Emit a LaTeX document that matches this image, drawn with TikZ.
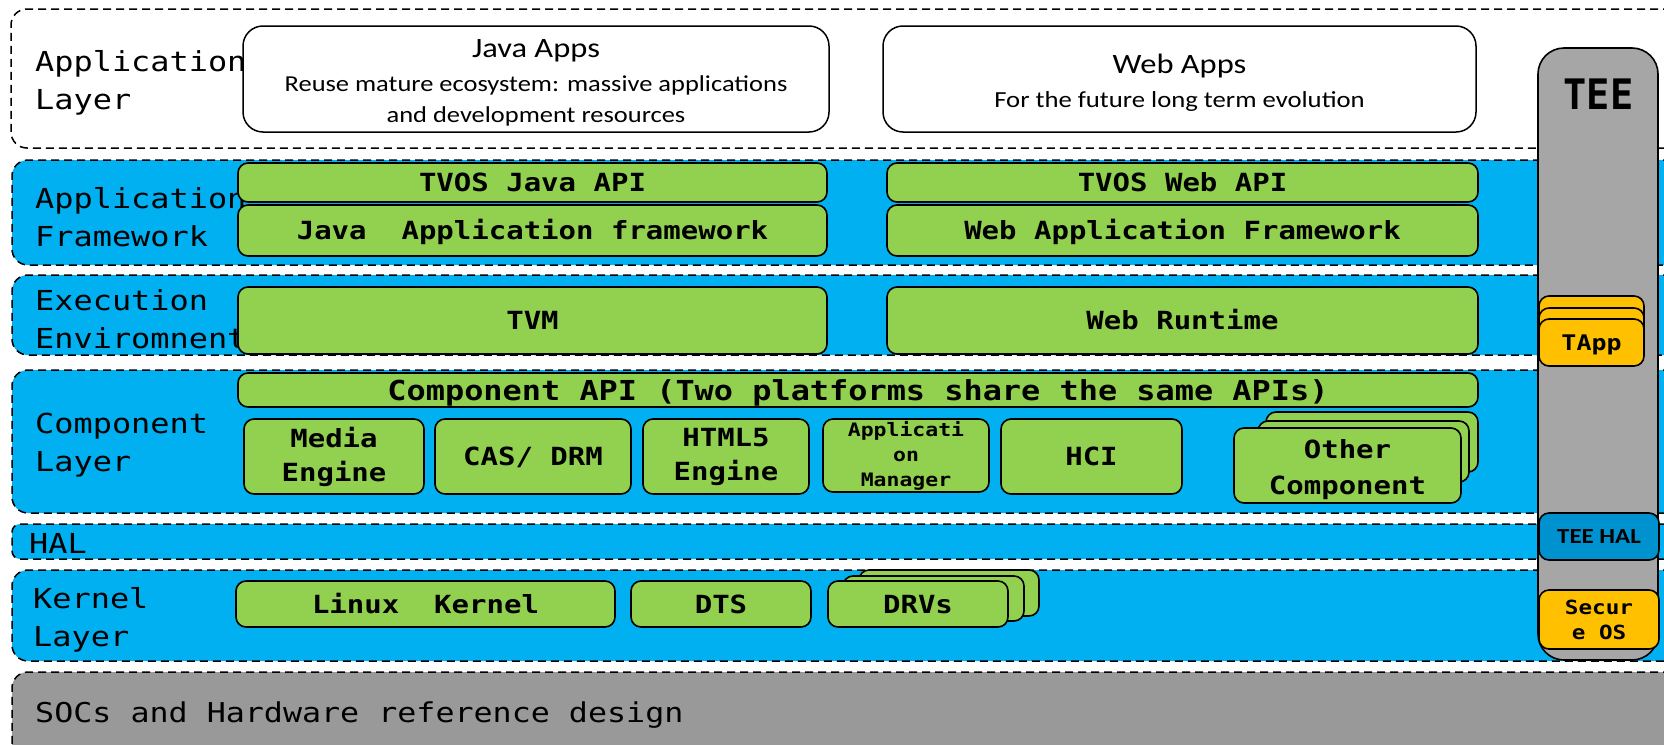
\documentclass[tikz,border=0pt]{standalone}
\usepackage{fontspec}
\setmainfont{Carlito}[FakeStretch=1.16]
\newfontfamily\monofont{DejaVu Sans Mono}[FakeStretch=1.16]
\newfontfamily\teefont{DejaVu Sans Mono}[FakeStretch=0.92]
\usetikzlibrary{fit}

\definecolor{tvblue}{HTML}{00B0F0}
\definecolor{tvgreen}{HTML}{92D050}
\definecolor{teeorange}{HTML}{FFC000}
\definecolor{teegray}{HTML}{A6A6A6}
\definecolor{socgray}{HTML}{999999}
\definecolor{teehalblue}{HTML}{0092CF}

\tikzset{
  layer/.style={draw, dash pattern=on 8pt off 5pt, line width=1.5pt, rounded corners=16pt, fill=tvblue, inner sep=0pt},
  applayer/.style={layer, fill=white},
  soclayer/.style={layer, fill=socgray},
  lbl/.style={font=\monofont\fontsize{27.5}{38}\selectfont, align=left, anchor=west, inner sep=0pt},
  appbox/.style={draw, fill=white, line width=1.5pt, rounded corners=20pt, inner sep=0pt, align=center},
  greenbox/.style={draw, fill=tvgreen, line width=1.6pt, rounded corners=10pt, inner sep=0pt, align=center, font=\monofont\bfseries\fontsize{25}{34}\selectfont},
  onebox/.style={greenbox, text height=18pt, text depth=0pt},
  orangebox/.style={greenbox, fill=teeorange, font=\monofont\bfseries\fontsize{20}{25}\selectfont},
  size/.style 2 args={minimum width=#1pt, minimum height=#2pt},
}
% extra height on a first line, to push multi-line text down a little
\newcommand{\tallrule}[1]{\rule{0pt}{#1pt}}

\begin{document}
\begin{tikzpicture}[x=1pt,y=-1pt]
  \useasboundingbox (0,0) rectangle (1664,744);
  \clip (0,0) rectangle (1664,744);

  % layers
  \node[applayer, fit={(11,9) (1700,148)}] (applay) {};
  \node[layer, fit={(12,160) (1700,265)}] (fwlay) {};
  \node[layer, fit={(12,275) (1700,355)}] (execlay) {};
  \node[layer, fit={(12,370) (1700,513)}] (complay) {};
  \node[layer, rounded corners=8pt, fit={(12,524) (1700,559)}] (hallay) {};
  \node[layer, fit={(12,570) (1700,661)}] (kernlay) {};
  \node[soclayer, fit={(12,672) (1700,770)}] (soclay) {};

  \node[lbl] (lblapp) at (35,83) {Application\\Layer};
  \node[lbl] (lblfw) at (35,217) {Application\\Framework};
  \node[lbl] (lblexec) at (35,319) {Execution\\Enviromnent};
  \node[lbl] (lblcomp) at (35,445) {Component\\Layer};
  \node[lbl, anchor=base west] (lblhal) at (29,553) {HAL};
  \node[lbl] (lblkern) at (33,620) {Kernel\\Layer};
  \node[lbl, anchor=base west, font=\monofont\fontsize{27.3}{38}\selectfont] (lblsoc) at (35,722) {SOCs and Hardware reference design};

  % apps
  \node[appbox, size={586}{106}, font=\fontsize{22.8}{31}\selectfont] (javaapps) at (536,79)
    {{\fontsize{28}{34}\selectfont\tallrule{25.5}Java Apps}\\[3pt]Reuse mature ecosystem: massive applications\\and development resources};
  \node[appbox, size={593}{106}, font=\fontsize{23}{34}\selectfont] (webapps) at (1179.5,79)
    {{\fontsize{28}{34}\selectfont\tallrule{26.5}Web Apps}\\For the future long term evolution};

  % framework and runtime
  \node[onebox, size={589}{39}] (javaapi) at (532.5,182.5) {TVOS Java API};
  \node[onebox, size={589}{51}] (javafw) at (532.5,230.5) {Java\ \ Application framework};
  \node[onebox, size={589}{67}] (tvm) at (532.5,320.5) {TVM};
  \node[onebox, size={591}{39}] (webapi) at (1182.5,182.5) {TVOS Web API};
  \node[onebox, size={591}{51}] (webfw) at (1182.5,230.5) {Web Application Framework};
  \node[onebox, size={591}{67}] (webrt) at (1182.5,320.5) {Web Runtime};

  % components
  \node[onebox, size={1240}{34}, text height=20pt, font=\monofont\bfseries\fontsize{27.5}{34}\selectfont] (compapi) at (858,390)
    {Component API (Two platforms share the same APIs)};
  \node[greenbox, size={180}{75}] (media) at (334,456.5) {Media\\Engine};
  \node[onebox, size={196}{75}] (cas) at (533,456.5) {CAS/ DRM};
  \node[greenbox, size={166}{75}] (html) at (726,456.5) {HTML5\\Engine};
  \node[greenbox, size={166}{73}, font=\monofont\bfseries\fontsize{18.5}{25}\selectfont] (appmgr) at (906,455.5) {Applicati\\on\\Manager};
  \node[onebox, size={181}{75}] (hci) at (1091.5,456.5) {HCI};
  \node[greenbox, size={212}{60}] (other3) at (1372,442) {};
  \node[greenbox, size={211}{61}] (other2) at (1363.5,451.5) {};
  \node[greenbox, size={227}{75}, font=\monofont\bfseries\fontsize{25}{36}\selectfont] (other1) at (1347.5,465.5) {\tallrule{26.5}Other\\Component};

  % kernel
  \node[onebox, size={379}{46}] (linux) at (425.5,604) {Linux\ \ Kernel};
  \node[onebox, size={180}{46}] (dts) at (721,604) {DTS};
  \node[greenbox, size={180}{46}] (drv3) at (949,593) {};
  \node[greenbox, size={181}{45}] (drv2) at (933.5,598.5) {};
  \node[onebox, size={180}{46}] (drv1) at (918,604) {DRVs};

  % TEE
  \node[draw, fill=teegray, line width=1.6pt, rounded corners=26pt, inner sep=0pt, fit={(1538,48) (1658,660)}] (tee) {};
  \node[anchor=base, inner sep=0pt, font=\teefont\bfseries\fontsize{42}{42}\selectfont] (teelbl) at (1598.5,109) {TEE};
  \node[orangebox, size={105}{47}] (tapp3) at (1591.5,319.5) {};
  \node[orangebox, size={105}{47}] (tapp2) at (1591.5,331.5) {};
  \node[orangebox, size={105}{47}, text height=15.5pt, text depth=0pt, font=\monofont\bfseries\fontsize{21.5}{25}\selectfont] (tapp1) at (1591.5,342.5) {TApp};
  \node[greenbox, size={120}{47}, fill=teehalblue, text height=14pt, text depth=0pt, font=\bfseries\fontsize{21.5}{25}\selectfont] (teehal) at (1599,536.5) {TEE HAL};
  \node[orangebox, size={120}{59}, font=\monofont\bfseries\fontsize{19.5}{25}\selectfont] (secos) at (1599,619.5) {Secur\\e OS};
\end{tikzpicture}
\end{document}
